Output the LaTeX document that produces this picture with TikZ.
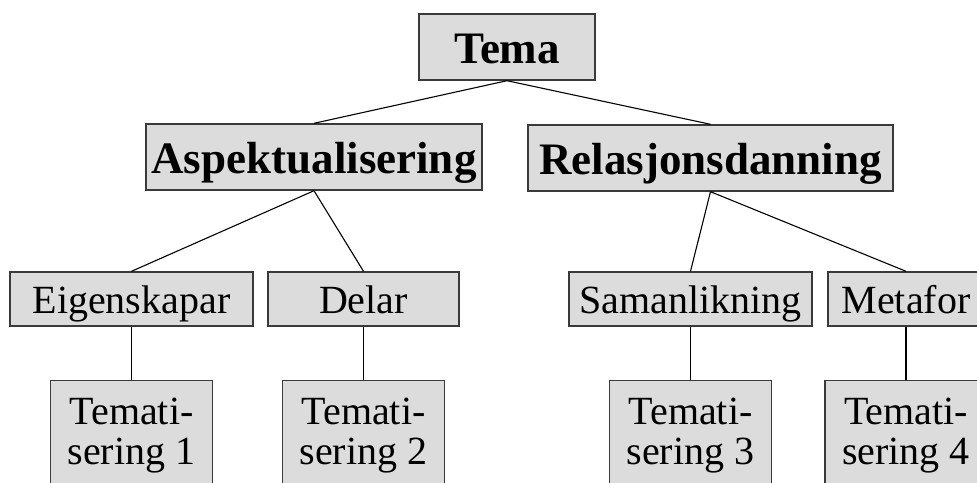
\documentclass[tikz,border=0pt]{standalone}
\usepackage{fontspec}
\setmainfont{Liberation Serif}
\usetikzlibrary{positioning}
\definecolor{boxgrey}{HTML}{DCDCDC}
\definecolor{edgegrey}{HTML}{3A3A3A}

\begin{document}
\begin{tikzpicture}[
  x=1pt, y=-1pt,
  boxB/.style={draw=edgegrey, line width=1.4pt, fill=boxgrey, anchor=base,
               inner xsep=0pt, inner ysep=0pt, text height=49pt, text depth=17pt,
               font=\fontsize{45}{45}\selectfont\bfseries},
  boxR/.style={draw=edgegrey, line width=1.4pt, fill=boxgrey, anchor=base,
               inner xsep=0pt, inner ysep=0pt, text height=41pt, text depth=13pt,
               font=\fontsize{40}{40}\selectfont},
  boxT/.style={draw=edgegrey, line width=1.4pt, fill=boxgrey, anchor=north,
               align=center, inner xsep=0pt, inner ysep=17pt, minimum width=162pt,
               font=\fontsize{40}{40}\selectfont},
  ln/.style={draw=black, line width=1.1pt}
]
\useasboundingbox (0,0) rectangle (977,482);
\clip (0,0) rectangle (977,482);

% ==== top level
\node[boxB, minimum width=176pt] (tema) at (507,63) {Tema};
\node[boxB, minimum width=336pt] (asp) at (314,173) {Aspektualisering};
\node[boxB, minimum width=365pt] (rel) at (710.5,174) {Relasjonsdanning};

% ==== second level
\node[boxR, minimum width=243pt] (eig) at (131.5,313) {Eigenskapar};
\node[boxR, minimum width=191pt] (del) at (363.5,313) {Delar};
\node[boxR, minimum width=243pt] (sam) at (690.5,313) {Samanlikning};
\node[boxR, minimum width=156pt] (met) at (906,313) {Metafor};

% ==== tematiseringar
\node[boxT] (tm1) at (131.5,380) {Temati-\\sering 1};
\node[boxT] (tm2) at (363.5,380) {Temati-\\sering 2};
\node[boxT] (tm3) at (690.5,380) {Temati-\\sering 3};
\node[boxT] (tm4) at (906,380) {Temati-\\sering 4};

% ==== connectors
\foreach \a/\b in {tema/asp, tema/rel, asp/eig, asp/del, rel/sam, rel/met,
                   eig/tm1, del/tm2, sam/tm3, met/tm4} {
  \draw[ln] (\a.south) -- (\b.north);
}
\end{tikzpicture}
\end{document}
